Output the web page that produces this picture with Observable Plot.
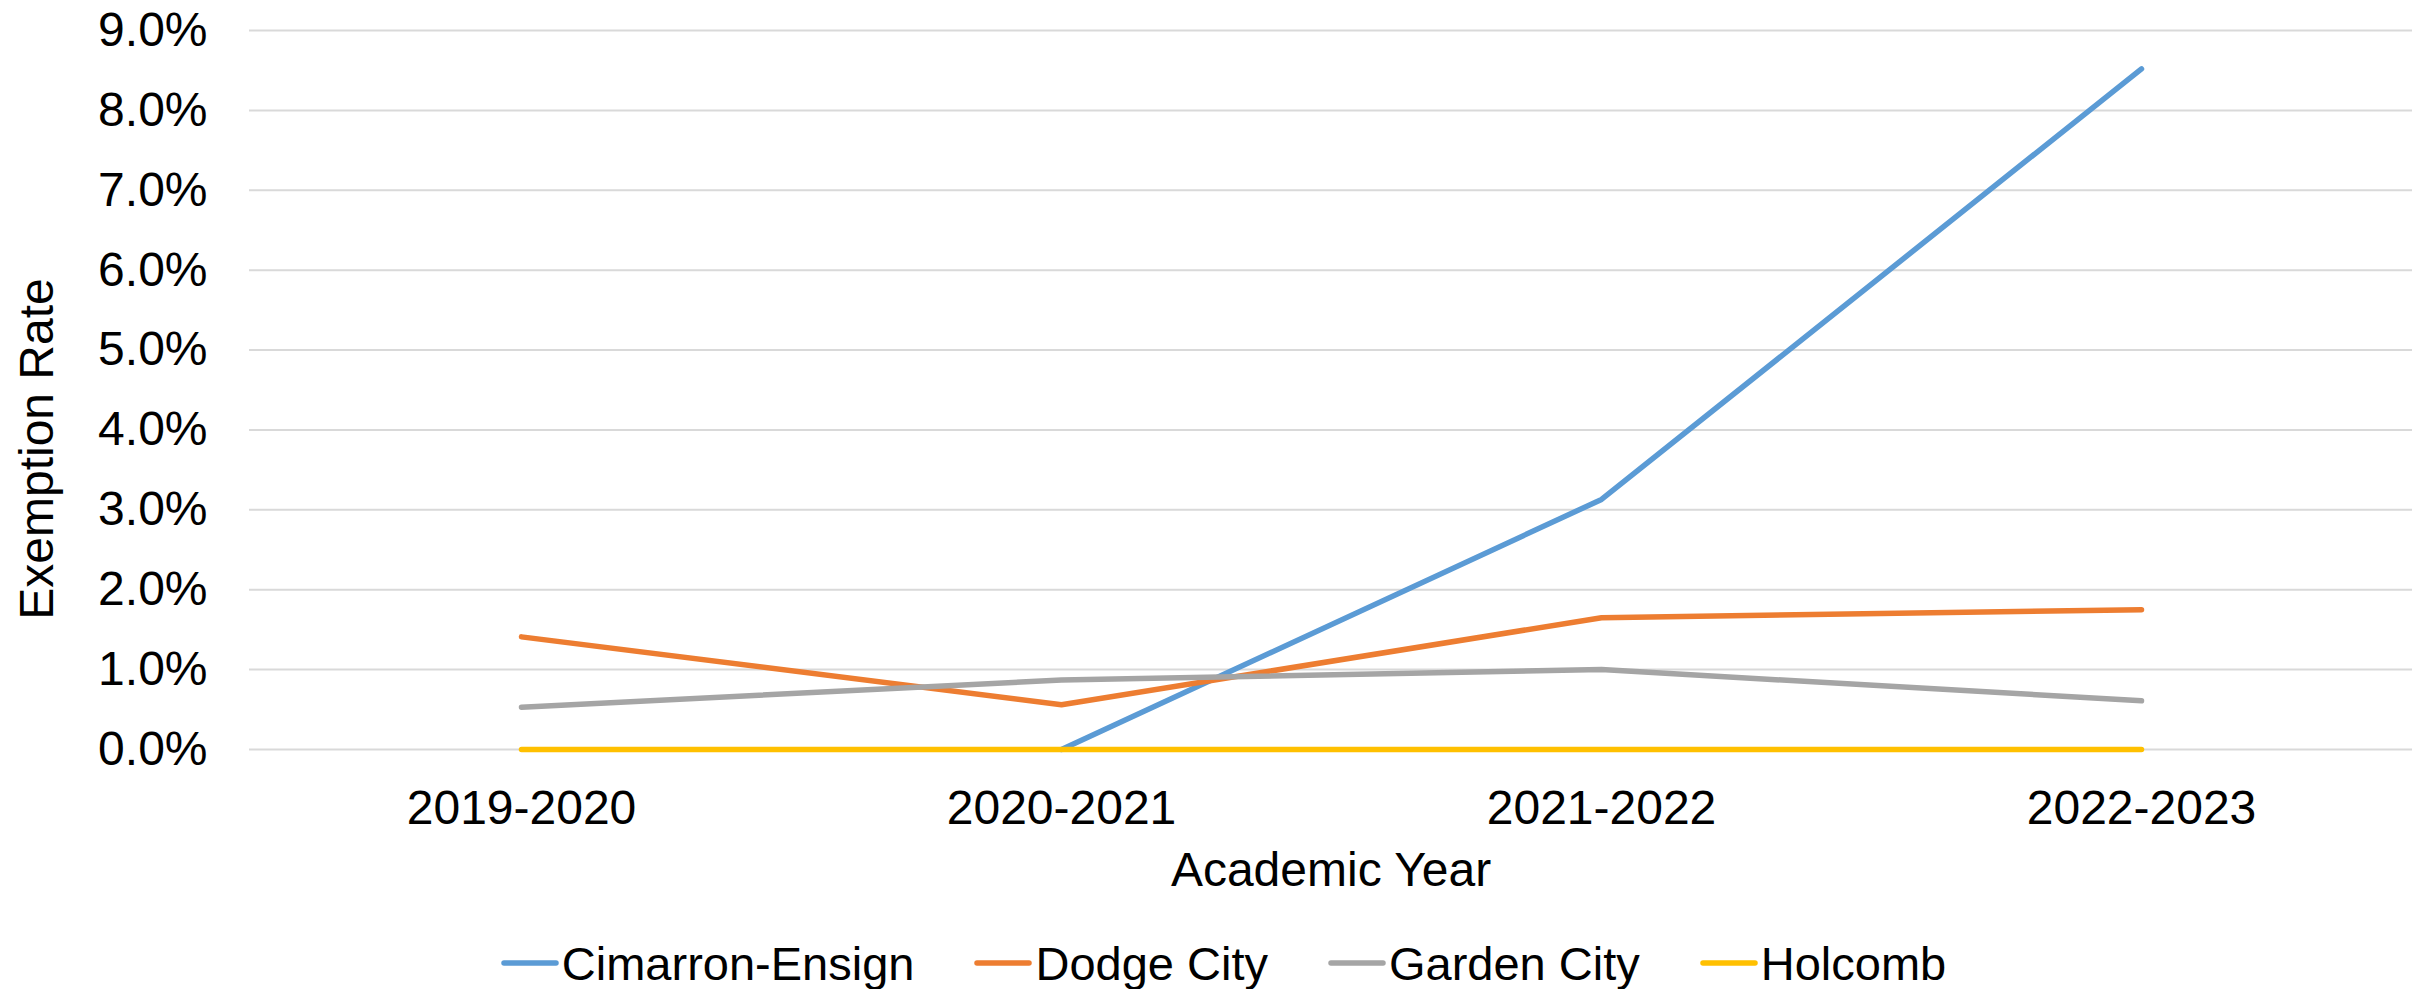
<!DOCTYPE html>
<html>
<head>
<meta charset="utf-8">
<script src="https://cdn.jsdelivr.net/npm/d3@7"></script>
<script src="https://cdn.jsdelivr.net/npm/@observablehq/plot@0.6"></script>
<style>
  html, body { margin: 0; padding: 0; background: #fff; }
  body { width: 2423px; height: 989px; overflow: hidden; font-family: "Liberation Sans", Arial, sans-serif; }
  #chart svg { display: block; }
  #legend { height: 120px; display: flex; justify-content: center; align-items: center; padding-left: 24px; box-sizing: border-box; width: 2423px; }
  .item { display: flex; align-items: center; margin: 0 30px; font-size: 47px; color: #000; }
  .item svg { margin-right: 3px; }
</style>
</head>
<body>
<div id="chart"></div>
<div id="legend"></div>
<script>
const years = ["2019-2020", "2020-2021", "2021-2022", "2022-2023"];
const seriesNames = ["Cimarron-Ensign", "Dodge City", "Garden City", "Holcomb"];
const seriesColors = ["#5B9BD5", "#ED7D31", "#A5A5A5", "#FFC000"];
const cimarronEnsign = [null, 0.0, 3.13, 8.52];
const dodgeCity = [1.41, 0.56, 1.65, 1.75];
const gardenCity = [0.53, 0.87, 1.00, 0.61];
const holcomb = [0.0, 0.0, 0.0, 0.0];
const yTicks = [0, 0.01, 0.02, 0.03, 0.04, 0.05, 0.06, 0.07, 0.08, 0.09];

const allValues = [cimarronEnsign, dodgeCity, gardenCity, holcomb];
const rows = [];
seriesNames.forEach((s, si) => {
  years.forEach((y, yi) => {
    const v = allValues[si][yi];
    rows.push({series: s, year: y, value: v == null ? NaN : v / 100});
  });
});

const font = "'Liberation Sans', Arial, sans-serif";

const chart = Plot.plot({
  width: 2423,
  height: 903,
  marginLeft: 249,
  marginRight: 11,
  marginTop: 30,
  marginBottom: 154,
  style: {fontFamily: font, fontSize: "48px", color: "#000", background: "#fff", overflow: "visible"},
  x: {type: "point", domain: years, padding: 0.5, label: null},
  y: {domain: [0, 0.09], label: null},
  color: {domain: seriesNames, range: seriesColors},
  marks: [
    Plot.gridY(yTicks, {stroke: "#D9D9D9", strokeOpacity: 1, strokeWidth: 2}),
    Plot.axisY(yTicks, {tickSize: 0, tickPadding: 42, tickFormat: d3.format(".1%"), fontSize: 48, label: null, fill: "#000"}),
    Plot.axisX({tickSize: 0, tickPadding: 40, fontSize: 48, label: null, fill: "#000"}),
    Plot.line(rows, {
      x: "year", y: "value", z: "series", stroke: "series",
      strokeWidth: 5.5, strokeLinecap: "round", strokeLinejoin: "round",
      defined: d => !isNaN(d.value)
    }),
    Plot.text(["Academic Year"], {frameAnchor: "bottom", lineAnchor: "bottom", dy: 136, fontSize: 48, fill: "#000"}),
    Plot.text(["Exemption Rate"], {frameAnchor: "left", textAnchor: "middle", lineAnchor: "bottom", rotate: -90, dx: -197, dy: 59, fontSize: 48, fill: "#000"})
  ]
});
document.getElementById("chart").appendChild(chart);

const legend = document.getElementById("legend");
seriesNames.forEach((s, i) => {
  const item = document.createElement("div");
  item.className = "item";
  item.innerHTML = `<svg width="58" height="10"><line x1="3" y1="5" x2="55" y2="5" stroke="${seriesColors[i]}" stroke-width="5.5" stroke-linecap="round"/></svg><span>${s}</span>`;
  legend.appendChild(item);
});
</script>
</body>
</html>
